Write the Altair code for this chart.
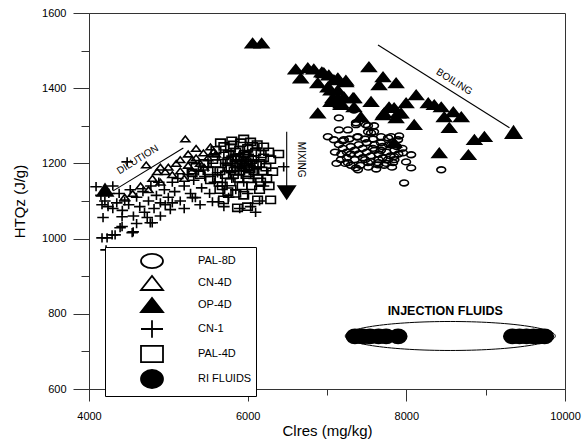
import altair as alt
import pandas as pd

series_names = ["PAL-8D", "CN-4D", "OP-4D", "CN-1", "PAL-4D", "RI FLUIDS"]

pal8d_x = [7340, 7150, 7150, 7264, 7365, 7517, 7593, 7011, 7087, 7213, 7390, 7555, 7681, 7808, 7896, 7175, 7264, 7365, 7517, 7643,
           7770, 7846, 7365, 7491, 7517, 7593, 7770, 7909, 7808, 7959, 8061, 7997, 8061, 7390, 7643, 7833, 8440, 7972,
           7150, 7200, 7250, 7300, 7350, 7400, 7450, 7500, 7550, 7600, 7650, 7700, 7750, 7800, 7850, 7200, 7300, 7400, 7500, 7600,
           7700, 7250, 7350, 7450, 7550, 7650, 7750, 7850, 7900, 7100, 7120, 7180, 7280, 7380, 7480, 7580, 7680, 7780, 7880, 7950,
           7420, 7520, 7620, 7720, 7820, 7300, 7230, 7480, 7580, 7680]
pal8d_y = [1342, 1321, 1289, 1289, 1303, 1300, 1300, 1271, 1263, 1263, 1271, 1281, 1271, 1271, 1263, 1210, 1202, 1188, 1202, 1202,
           1210, 1218, 1308, 1303, 1284, 1284, 1268, 1273, 1249, 1228, 1223, 1204, 1188, 1183, 1196, 1202, 1183, 1148,
           1250, 1240, 1230, 1245, 1235, 1225, 1240, 1230, 1220, 1235, 1225, 1215, 1230, 1220, 1235, 1260, 1225, 1250, 1255, 1250,
           1245, 1215, 1210, 1215, 1205, 1210, 1200, 1210, 1225, 1230, 1200, 1225, 1265, 1270, 1265, 1265, 1255, 1250, 1245, 1240,
           1195, 1190, 1185, 1195, 1190, 1195, 1200, 1210, 1240, 1235]

cn4d_x = [5214, 4721, 4860, 4961, 5531, 5442, 5569, 5100, 5000, 5150, 5250, 5300, 5350, 5400, 4800, 4900, 5050, 5200, 5300, 4650,
          4750, 5450, 5500, 5600, 4550, 4450, 5150, 5250, 4900, 5350]
cn4d_y = [1265, 1196, 1178, 1178, 1244, 1228, 1231, 1200, 1190, 1180, 1195, 1210, 1215, 1200, 1160, 1150, 1170, 1160, 1180, 1140,
          1130, 1190, 1215, 1225, 1120, 1110, 1210, 1225, 1190, 1240]

op4d_x = [6062, 6176, 6606, 6758, 6834, 6935, 7023, 7137, 7238, 6669, 6884, 7011, 7137, 7074, 7213, 7340, 7175, 6884, 7428, 7529,
          7706, 7656, 7871, 7555, 7782, 7706, 7896, 8124, 8276, 8352, 8440, 7997, 7846, 7719, 7934, 7871, 8478, 8592, 8693, 8099,
          8541, 8858, 8984, 8415, 8782, 7846, 6960, 7087, 7238, 7049, 7137, 7327, 7049, 7175, 7340]
op4d_y = [1520, 1520, 1451, 1454, 1451, 1443, 1435, 1427, 1421, 1427, 1414, 1403, 1395, 1374, 1377, 1374, 1361, 1334, 1324, 1457,
          1430, 1409, 1414, 1364, 1350, 1329, 1334, 1382, 1361, 1356, 1350, 1361, 1348, 1334, 1334, 1321, 1324, 1337, 1324, 1303,
          1295, 1263, 1271, 1228, 1223, 1255, 1441, 1422, 1417, 1395, 1374, 1374, 1364, 1356, 1350]

cn1_x = [4089, 4164, 4228, 4329, 4417, 4544, 4215, 4772, 4481, 4164, 4240, 4177, 4417, 4392, 4557, 4291, 4797, 4734, 4961, 5050,
         5025, 5303, 5341, 5556, 5632, 6037, 6454, 5900,
         4200, 4250, 4300, 4350, 4380, 4420, 4450, 4500, 4520, 4560, 4600, 4640, 4680, 4700, 4750, 4780, 4820, 4850, 4880, 4900,
         4950, 5000, 5050, 5080, 5120, 5150, 5200, 5250, 5280, 5320, 5380, 5420, 5460, 5500, 5520, 5580, 5620, 5680, 5720, 5760,
         5800, 5850, 5880, 5950, 6000, 6080, 6150, 4300, 4150, 4600, 4900, 5200, 5400, 5700, 6200, 6100]
cn1_y = [1138, 1002, 1002, 1010, 1032, 1016, 970, 1042, 1204, 1090, 1085, 1056, 1058, 1029, 1018, 1010, 1042, 1056, 1090, 1095,
         1077, 1109, 1109, 1098, 1098, 1085, 1191, 1080,
         1100, 1120, 1080, 1095, 1120, 1075, 1100, 1090, 1130, 1060, 1110, 1085, 1125, 1070, 1100, 1140, 1080, 1115, 1150, 1095,
         1130, 1110, 1150, 1125, 1160, 1100, 1140, 1170, 1120, 1155, 1180, 1135, 1165, 1190, 1120, 1150, 1175, 1140, 1200, 1110,
         1160, 1130, 1190, 1150, 1120, 1160, 1100, 1140, 1115, 1040, 1060, 1080, 1090, 1085, 1140, 1070]

pal4d_x = [6037, 6264, 6391, 6290, 6315, 6290, 5872, 5999, 6125, 5695, 5657, 5822, 5910, 6201, 5784, 5531, 6163,
           5600, 5650, 5700, 5750, 5800, 5850, 5900, 5950, 6000, 6050, 6100, 6150, 6200, 5620, 5680, 5720, 5780, 5830, 5880, 5930,
           5980, 6020, 6080, 6130, 6180, 6230, 5560, 5600, 5700, 5760, 5850, 5900, 5960, 6010, 6060, 6120, 6170, 5650, 5750, 5850,
           5950, 6050, 6150, 5500, 5450, 5400, 5350, 5300, 6240, 6270, 5800, 5950, 6000, 5900, 5820, 5750,
           5880, 5930, 5980, 6030, 5860, 5910, 5960, 6010, 6070, 5790, 5840, 6110]
pal4d_y = [1257, 1231, 1225, 1210, 1178, 1103, 1082, 1085, 1103, 1103, 1255, 1249, 1255, 1244, 1241, 1156, 1151,
           1200, 1180, 1220, 1190, 1210, 1230, 1200, 1220, 1240, 1210, 1230, 1200, 1215, 1160, 1140, 1170, 1150, 1180, 1160, 1140,
           1170, 1190, 1180, 1160, 1180, 1190, 1210, 1235, 1245, 1225, 1200, 1235, 1190, 1215, 1245, 1250, 1225, 1130, 1125, 1120,
           1115, 1140, 1130, 1180, 1200, 1170, 1190, 1175, 1160, 1140, 1260, 1265, 1200, 1180, 1170, 1205,
           1215, 1195, 1205, 1185, 1190, 1210, 1225, 1175, 1200, 1185, 1215, 1195]

ri_x = [7352, 7450, 7542, 7650, 7745, 7896, 9338, 9427, 9515, 9604, 9680, 9743]
ri_y = [740, 740, 740, 740, 740, 740, 740, 740, 740, 740, 740, 740]

# axis ticks
x_major = [4000, 6000, 8000, 10000]
x_minor = [5000, 7000, 9000]
y_major = [600, 800, 1000, 1200, 1400, 1600]
y_minor = [700, 900, 1100, 1300, 1500]

# annotation values (data units)
line_x1 = [4304, 6492, 7643]
line_y1 = [1127, 1284, 1515]
line_x2 = [5189, 6492, 9300]
line_y2 = [1241, 1140, 1295]
head_up_x = [4202, 9351]
head_up_y = [1130, 1284]
head_down_x = [6492]
head_down_y = [1122]
label_text = ["DILUTION", "MIXING", "BOILING"]
label_x = [4614, 6669, 8605]
label_y = [1210, 1210, 1417]
label_angle = [328, 90, 32]
inj_text = ["INJECTION FLUIDS"]
inj_x = [8491]
inj_y = [807]
ell_x = [8554]
ell_y = [741]

FONT = "Liberation Sans"

ELLIPSE = "M-1.222,0A1.222,0.8,0,1,1,1.222,0A1.222,0.8,0,1,1,-1.222,0Z"
TRI = "M-1.222,0.778L0,-0.778L1.222,0.778Z"
PLUS = "M-1.222,0H1.222M0,-0.978V0.978"
SQUARE = "M-1.222,-0.911H1.222V0.911H-1.222Z"
BLOB = "M-1.222,0A1.222,1,0,1,1,1.222,0A1.222,1,0,1,1,-1.222,0Z"

shape_range = [ELLIPSE, TRI, TRI, PLUS, SQUARE, BLOB]
fill_range = ["transparent", "transparent", "black", "transparent", "transparent", "black"]
stroke_range = ["black", "black", "black", "black", "black", "black"]
marker_size = {"PAL-8D": 52, "CN-4D": 53, "OP-4D": 138, "CN-1": 89, "PAL-4D": 61, "RI FLUIDS": 203}

xscale = alt.Scale(domain=[4000, 10000], nice=False, zero=False)
yscale = alt.Scale(domain=[600, 1600], nice=False, zero=False)

xaxis_major = alt.Axis(values=x_major, tickSize=12, format="d", labelFlush=False, grid=False,
                       labelPadding=9, title="Clres (mg/kg)", titlePadding=2, labelOverlap=False, orient="bottom")
yaxis_major = alt.Axis(values=y_major, tickSize=16, format="d", labelFlush=False, grid=False,
                       labelPadding=7, title="HTQz (J/g)", titlePadding=14, labelOverlap=False, orient="left")
xaxis_minor = alt.Axis(values=x_minor, tickSize=6, labels=False, domain=False, grid=False, title=None, orient="bottom")
yaxis_minor = alt.Axis(values=y_minor, tickSize=8, labels=False, domain=False, grid=False, title=None, orient="left")

shape_scale = alt.Scale(domain=series_names, range=shape_range)
fill_scale = alt.Scale(domain=series_names, range=fill_range)
stroke_scale = alt.Scale(domain=series_names, range=stroke_range)

layers = []

# minor tick axes carried by the ellipse annotation layer
ELL_BIG = "M-1,0A1,0.138,0,1,1,1,0A1,0.138,0,1,1,-1,0Z"
ell = alt.Chart(pd.DataFrame({"x": ell_x, "y": ell_y})).mark_point(
    shape=ELL_BIG, size=44100, filled=False, color="black", strokeWidth=1, opacity=1
).encode(x=alt.X("x:Q", scale=xscale, axis=xaxis_minor), y=alt.Y("y:Q", scale=yscale, axis=yaxis_minor))
layers.append(ell)

order = [("CN-1", cn1_x, cn1_y), ("PAL-4D", pal4d_x, pal4d_y), ("CN-4D", cn4d_x, cn4d_y),
         ("PAL-8D", pal8d_x, pal8d_y), ("OP-4D", op4d_x, op4d_y), ("RI FLUIDS", ri_x, ri_y)]
for i, (name, xs, ys) in enumerate(order):
    d = pd.DataFrame({"x": xs, "y": ys, "series": name})
    layers.append(
        alt.Chart(d).mark_point(filled=True, strokeWidth=1.6, opacity=1, size=marker_size[name]).encode(
            x=alt.X("x:Q", scale=xscale, axis=xaxis_major if i == 0 else None),
            y=alt.Y("y:Q", scale=yscale, axis=yaxis_major if i == 0 else None),
            shape=alt.Shape("series:N", scale=shape_scale, legend=alt.Legend(title=None)),
            fill=alt.Fill("series:N", scale=fill_scale, legend=alt.Legend(title=None)),
            stroke=alt.Stroke("series:N", scale=stroke_scale, legend=alt.Legend(title=None)),
        )
    )

lines_df = pd.DataFrame({"x1": line_x1, "y1": line_y1, "x2": line_x2, "y2": line_y2})
layers.append(alt.Chart(lines_df).mark_rule(color="black", strokeWidth=1.1).encode(
    x=alt.X("x1:Q", scale=xscale, axis=None), y=alt.Y("y1:Q", scale=yscale, axis=None), x2="x2:Q", y2="y2:Q"
))

HEAD_UP = "M-1,0.75L0,-0.75L1,0.75Z"
HEAD_DOWN = "M-1,-0.75L0,0.75L1,-0.75Z"
layers.append(alt.Chart(pd.DataFrame({"x": head_up_x, "y": head_up_y})).mark_point(
    shape=HEAD_UP, size=361, filled=True, color="black", opacity=1
).encode(x=alt.X("x:Q", scale=xscale, axis=None), y=alt.Y("y:Q", scale=yscale, axis=None)))
layers.append(alt.Chart(pd.DataFrame({"x": head_down_x, "y": head_down_y})).mark_point(
    shape=HEAD_DOWN, size=400, filled=True, color="black", opacity=1
).encode(x=alt.X("x:Q", scale=xscale, axis=None), y=alt.Y("y:Q", scale=yscale, axis=None)))

layers.append(alt.Chart(pd.DataFrame({"t": label_text, "x": label_x, "y": label_y, "a": label_angle})).mark_text(
    font=FONT, fontSize=10, color="black", align="center", baseline="middle"
).encode(
    x=alt.X("x:Q", scale=xscale, axis=None), y=alt.Y("y:Q", scale=yscale, axis=None), text="t:N",
    angle=alt.Angle("a:Q", scale=None),
))

layers.append(alt.Chart(pd.DataFrame({"t": inj_text, "x": inj_x, "y": inj_y})).mark_text(
    font=FONT, fontSize=12.5, fontWeight="bold", color="black", align="center", baseline="middle"
).encode(x=alt.X("x:Q", scale=xscale, axis=None), y=alt.Y("y:Q", scale=yscale, axis=None), text="t:N"))

chart = alt.layer(*layers).resolve_axis(x="independent", y="independent").properties(
    width=476, height=376,
    autosize=alt.AutoSizeParams(type="none"),
    padding={"left": 89, "top": 13, "right": 20, "bottom": 53},
    background="white",
).configure_view(stroke="#333", strokeWidth=1).configure_axis(
    labelFont=FONT, labelFontSize=11, labelColor="black",
    titleFont=FONT, titleFontSize=15, titleFontWeight="normal", titleColor="black",
    domainColor="#333", tickColor="#333",
).configure_legend(
    orient="none", legendX=16, legendY=234,
    strokeColor="black", fillColor="white", padding=4,
    symbolSize=324, symbolStrokeWidth=1.8,
    symbolOffset=33, labelOffset=36, rowPadding=0,
    labelFont=FONT, labelFontSize=11, labelColor="black",
)

chart.save("out.html", embed_options={"renderer": "svg", "actions": False})
